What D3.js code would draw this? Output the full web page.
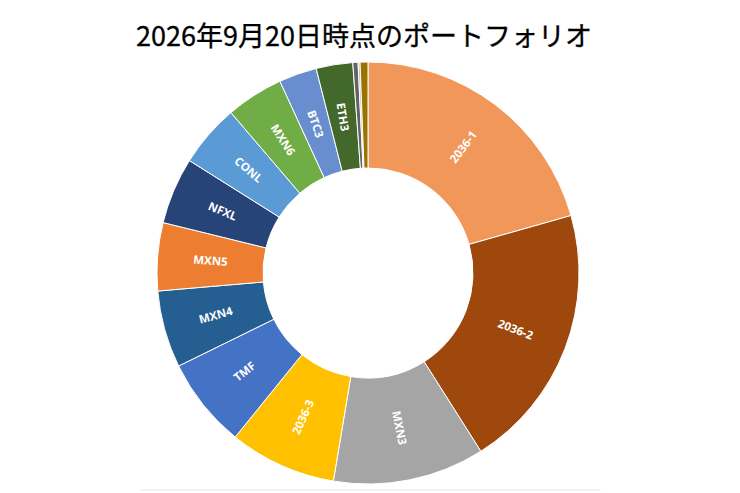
<!DOCTYPE html>
<html>
<head>
<meta charset="utf-8">
<script src="https://cdn.jsdelivr.net/npm/d3@7"></script>
<style>
  body { margin: 0; background: #fff; }
  svg { display: block; }
</style>
</head>
<body>
<div id="chart"></div>
<script>
var title = "2026年9月20日時点のポートフォリオ";
// holdings, clockwise from 12 o'clock (share of portfolio, %)
var names = ["2036-1", "2036-2", "MXN3", "2036-3", "TMF", "MXN4", "MXN5", "NFXL", "CONL", "MXN6", "BTC3", "ETH3", "その他1", "その他2", "その他3"];
var shares = [20.6, 20.4, 11.6, 8.2, 6.9, 5.9, 5.2, 5.1, 4.8, 4.4, 2.9, 2.8, 0.4, 0.15, 0.6];
var colors = ["#F1975A", "#9E480E", "#A5A5A5", "#FFC000", "#4472C4", "#255E91", "#ED7D31", "#264478", "#5B9BD5", "#70AD47", "#698ED0", "#43682B", "#636363", "#B7B7B7", "#997300"];
var showLabel = [true, true, true, true, true, true, true, true, true, true, true, true, false, false, false];

function init() {
    var w = 740;
    var h = 493;
    var cx = 368, cy = 273;
    var outerR = 211, innerR = 105;

    var svg = d3.select("#chart")
                .append("svg")
                .attr("width", w)
                .attr("height", h);

    // faint plot-area edge at the bottom
    svg.append("rect")
        .attr("x", 141).attr("y", 489)
        .attr("width", 460).attr("height", 2)
        .attr("fill", "#f3f3f3");

    svg.append("text")
        .attr("x", 364)
        .attr("y", 46)
        .attr("text-anchor", "middle")
        .attr("font-family", "'Noto Sans CJK JP', 'Noto Sans', sans-serif")
        .attr("font-size", "27px")
        .attr("fill", "#000")
        .attr("stroke", "#000")
        .attr("stroke-width", 0.3)
        .text(title);

    var data = names.map(function(n, i) {
        return { name: n, value: shares[i], color: colors[i], label: showLabel[i] };
    });

    var pie = d3.pie()
        .sort(null)
        .value(function(d) { return d.value; });

    var arc = d3.arc()
        .innerRadius(innerR)
        .outerRadius(outerR);

    var g = svg.append("g")
        .attr("transform", "translate(" + cx + "," + cy + ")");

    var arcs = pie(data);

    g.selectAll("path")
        .data(arcs)
        .enter()
        .append("path")
        .attr("d", arc)
        .attr("fill", function(d) { return d.data.color; })
        .attr("stroke", "#fff")
        .attr("stroke-width", 1);

    var midR = (innerR + outerR) / 2;
    g.selectAll("text.lbl")
        .data(arcs.filter(function(d) { return d.data.label; }))
        .enter()
        .append("text")
        .attr("class", "lbl")
        .attr("transform", function(d) {
            var a = (d.startAngle + d.endAngle) / 2;
            var x = Math.sin(a) * midR;
            var y = -Math.cos(a) * midR;
            var deg = a * 180 / Math.PI - 90;
            if (deg > 90) deg -= 180;
            return "translate(" + x + "," + y + ") rotate(" + deg + ")";
        })
        .attr("text-anchor", "middle")
        .attr("dy", "0.35em")
        .attr("font-family", "'Open Sans', sans-serif")
        .attr("font-weight", 700)
        .attr("font-size", "11.5px")
        .attr("fill", "#fff")
        .text(function(d) { return d.data.name; });
}
window.onload = init;
</script>
</body>
</html>
